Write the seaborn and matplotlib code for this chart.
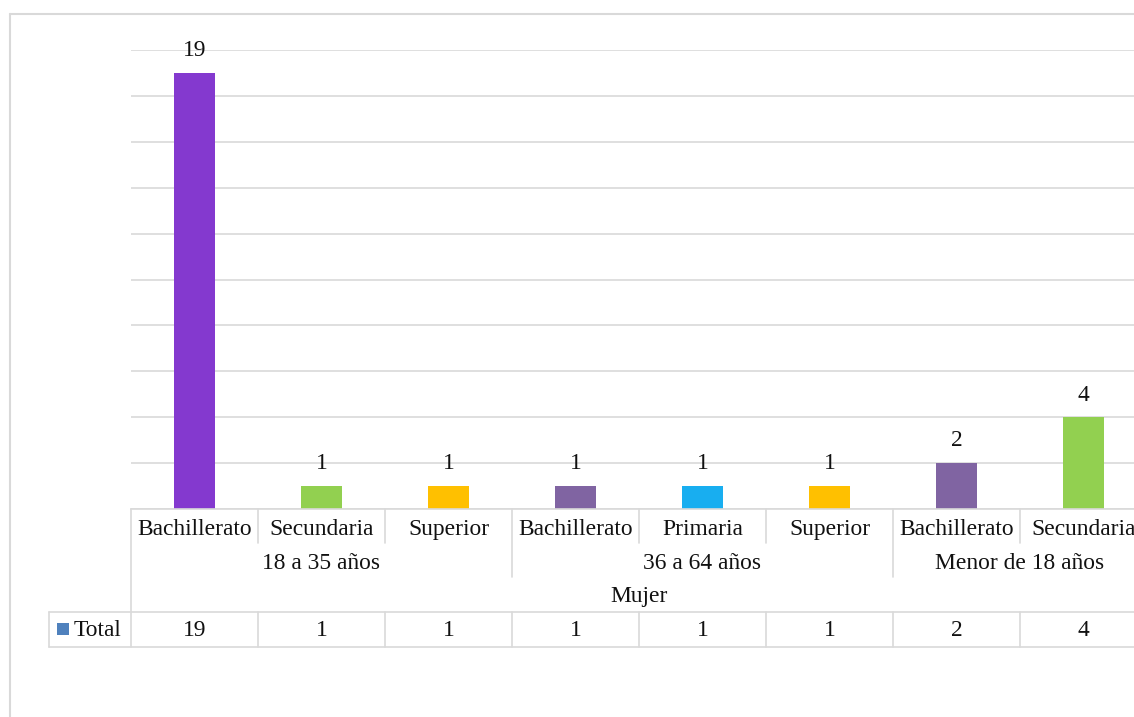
import matplotlib
matplotlib.use("Agg")
import matplotlib.pyplot as plt
import seaborn as sns
import pandas as pd
from matplotlib.lines import Line2D
from matplotlib.patches import Rectangle

# ---- data ----
education = ["Bachillerato", "Secundaria", "Superior", "Bachillerato", "Primaria",
             "Superior", "Bachillerato", "Secundaria"]
age_groups = ["18 a 35 años", "36 a 64 años", "Menor de 18 años"]
age_spans = [3, 3, 2]
gender = "Mujer"
totals = [19, 1, 1, 1, 1, 1, 2, 4]
series_name = "Total"
bar_colors = ["#8439CF", "#92D050", "#FFC000", "#8064A2", "#18AEF0",
              "#FFC000", "#8064A2", "#92D050"]

sns.set_theme(style="white")
plt.rcParams["font.family"] = ["Liberation Serif", "DejaVu Serif"]

W, H = 1134, 717
fig = plt.figure(figsize=(W / 100, H / 100), dpi=100)

# pixel geometry
x0, x1 = 131, 1147
y_top, y_base = 50, 509
ax = fig.add_axes([x0 / W, (H - y_base) / H, (x1 - x0) / W, (y_base - y_top) / H])

df = pd.DataFrame({"pos": list(range(len(totals))), "val": totals})
sns.barplot(data=df, x="pos", y="val", hue="pos", palette=bar_colors,
            width=0.315, legend=False, ax=ax, saturation=1, linewidth=0)
ax.set_xlim(-0.5, len(totals) - 0.5)
ax.set_ylim(0, 20)
ax.set_yticks(range(0, 21, 2))
ax.yaxis.grid(True, color="#D9D9D9", linewidth=1.2)
ax.set_axisbelow(True)
for s in ["top", "right", "left"]:
    ax.spines[s].set_visible(False)
ax.spines["bottom"].set_color("#D9D9D9")
ax.spines["bottom"].set_linewidth(1.2)
ax.set_xticks([])
ax.set_yticklabels([])
ax.tick_params(left=False, bottom=False)
ax.set_xlabel("")
ax.set_ylabel("")

fs = 16.9
tc = "#111111"
for i, v in enumerate(totals):
    ax.annotate(str(v), (i, v), xytext=(0, 12), textcoords="offset points",
                ha="center", va="baseline", fontsize=fs, color=tc)

tr = ax.get_xaxis_transform()
def ay(ypix):
    return (y_base - ypix) / (y_base - y_top)

lc = "#D9D9D9"
lw = 1.2
def vline(x, ya, yb):
    ax.add_line(Line2D([x, x], [ay(ya), ay(yb)], transform=tr, color=lc,
                       lw=lw, clip_on=False))

n = len(totals)
bounds_group = [-0.5]
acc = -0.5
for s in age_spans:
    acc += s
    bounds_group.append(acc)
for k in range(n + 1):
    xb = k - 0.5
    if k == 0:
        vline(xb, 509, 647)
    elif any(abs(xb - b) < 1e-9 for b in bounds_group):
        vline(xb, 509, 577)
        vline(xb, 612, 647)
    else:
        vline(xb, 509, 543)
        vline(xb, 612, 647)

for i, lab in enumerate(education):
    ax.text(i, ay(535), lab, transform=tr, ha="center", va="baseline",
            fontsize=fs, color=tc, clip_on=False)
start = 0
for g, s in zip(age_groups, age_spans):
    ax.text(start + (s - 1) / 2, ay(569), g, transform=tr, ha="center",
            va="baseline", fontsize=fs, color=tc, clip_on=False)
    start += s
ax.text((n - 1) / 2, ay(602), gender, transform=tr, ha="center", va="baseline",
        fontsize=fs, color=tc, clip_on=False)

# data table
for yy in (612, 647):
    fig.add_artist(Line2D([49 / W, 1], [(H - yy) / H] * 2, color=lc, lw=lw))
fig.add_artist(Line2D([49 / W] * 2, [(H - 612) / H, (H - 647) / H], color=lc, lw=lw))
for i, v in enumerate(totals):
    ax.text(i, ay(636), str(v), transform=tr, ha="center", va="baseline",
            fontsize=fs, color=tc, clip_on=False)
fig.add_artist(Rectangle((57 / W, (H - 635) / H), 12 / W, 12 / H,
                         facecolor="#4F81BD", edgecolor="none"))
fig.text(74 / W, (H - 636) / H, series_name, ha="left", va="baseline",
         fontsize=fs, color=tc)

# outer chart border
fig.add_artist(Line2D([10 / W, 1], [(H - 14) / H] * 2, color=lc, lw=1.5))
fig.add_artist(Line2D([10 / W] * 2, [(H - 14) / H, 0], color=lc, lw=1.5))

fig.savefig("out.png", dpi=100)
